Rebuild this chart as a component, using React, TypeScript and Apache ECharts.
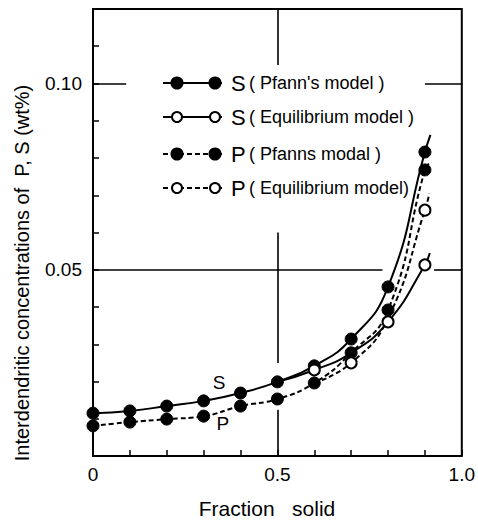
import React, { useEffect, useRef } from "react";
import * as echarts from "echarts";

// ---- data ----
const xFull = [0, 0.1, 0.2, 0.3, 0.4, 0.5, 0.6, 0.7, 0.8, 0.9];
const sPfann = [0.0115, 0.0121, 0.0134, 0.0148, 0.0169, 0.0199, 0.0242, 0.0314, 0.0454, 0.0816];
const pPfann = [0.0081, 0.0091, 0.0099, 0.0107, 0.0134, 0.0153, 0.0196, 0.0277, 0.0392, 0.0768];
const tailX = [0.915];
const sPfannTail = [0.0862];
const pPfannTail = [0.0789];

const sEqX = [0.5, 0.6, 0.7, 0.8, 0.9, 0.913];
const sEqY = [0.0199, 0.0231, 0.0277, 0.036, 0.0513, 0.0545];
const sEqMarked = [false, true, false, true, true, false];

const pEqX = [0.6, 0.7, 0.8, 0.9, 0.912];
const pEqY = [0.0196, 0.025, 0.037, 0.066, 0.0705];
const pEqMarked = [false, true, false, true, false];

const xTickValues = [0, 0.5, 1.0];
const xTickLabels = ["0", "0.5", "1.0"];
const yTickValues = [0.05, 0.1];
const yTickLabels = ["0.05", "0.10"];

const legendElements = ["S", "S", "P", "P"];
const legendNotes = ["( Pfann's model )", "( Equilibrium model )", "( Pfanns modal )", "( Equilibrium model)"];
const legendDashed = [false, false, true, true];
const legendFilled = [true, false, true, false];

const curveLabels = ["S", "P"];
const curveLabelX = [0.342, 0.352];
const curveLabelY = [0.0197, 0.0086];

// reference lines (broken grid lines in the original)
const refSegments: number[][][] = [
  [[0, 0.1], [0.09, 0.1]],
  [[0.9, 0.1], [1, 0.1]],
  [[0, 0.05], [0.785, 0.05]],
  [[0.925, 0.05], [1, 0.05]],
  [[0.5, 0.12], [0.5, 0.105]],
  [[0.5, 0.06], [0.5, 0.025]],
  [[0.5, 0.0124], [0.5, 0]],
];

const xName = "Fraction   solid";
const yName = "Interdendritic concentrations of  P, S (wt%)";

const FONT = "Liberation Sans";

function findLabel(v: number, vals: number[], labels: string[]) {
  for (let i = 0; i < vals.length; i++) if (Math.abs(v - vals[i]) < 1e-6) return labels[i];
  return "";
}

const filledStyle = { color: "#000", borderColor: "#000", borderWidth: 1 };
const openStyle = { color: "#fff", borderColor: "#000", borderWidth: 2 };
const SMOOTH = 0.5;

export default function App() {
  const ref = useRef<HTMLDivElement>(null);
  useEffect(() => {
    if (!ref.current) return;
    const chart = echarts.init(ref.current, null, { renderer: "svg" });

    const pfannData = (ys: number[], tail: number[]) => [
      ...xFull.map((x, i) => [x, ys[i]]),
      ...tailX.map((x, i) => ({ value: [x, tail[i]], symbol: "none" })),
    ];
    const eqData = (xs: number[], ys: number[], marked: boolean[]) =>
      xs.map((x, i) => (marked[i] ? [x, ys[i]] : { value: [x, ys[i]], symbol: "none" }));

    const legendGraphics: any[] = [];
    const rowY = [83, 117, 154, 188];
    legendElements.forEach((el, i) => {
      const y = rowY[i];
      legendGraphics.push({
        type: "line",
        shape: { x1: 163, y1: y, x2: 222, y2: y },
        style: { stroke: "#000", lineWidth: 2, lineDash: legendDashed[i] ? [5, 3] : null },
        z: 10,
      });
      [177, 215].forEach((cx) => {
        legendGraphics.push({
          type: "circle",
          shape: { cx, cy: y, r: legendFilled[i] ? 5.5 : 5 },
          style: {
            fill: legendFilled[i] ? "#000" : "#fff",
            stroke: "#000",
            lineWidth: 2,
          },
          z: 11,
        });
      });
      legendGraphics.push({
        type: "text",
        x: 231,
        y: y,
        style: {
          text: `{b|${el}} {s|${legendNotes[i]}}`,
          verticalAlign: "middle",
          rich: {
            b: { fontSize: 22, fontFamily: FONT, fill: "#000" },
            s: { fontSize: 18, fontFamily: FONT, fill: "#000" },
          },
        },
        z: 11,
      });
    });

    chart.setOption({
      animation: false,
      backgroundColor: "#fff",
      grid: {
        left: 93,
        right: 8,
        top: 9,
        bottom: 64,
        show: true,
        borderColor: "#000",
        borderWidth: 2,
        backgroundColor: "transparent",
      },
      xAxis: {
        type: "value",
        min: 0,
        max: 1,
        interval: 0.1,
        axisLine: { show: false },
        splitLine: { show: false },
        axisTick: { show: true, inside: true, length: 6, lineStyle: { color: "#000", width: 1.5 } },
        axisLabel: {
          margin: 9,
          fontSize: 19,
          fontFamily: FONT,
          color: "#000",
          formatter: (v: number) => findLabel(v, xTickValues, xTickLabels),
        },
      },
      yAxis: {
        type: "value",
        min: 0,
        max: 0.12,
        interval: 0.01,
        axisLine: { show: false },
        splitLine: { show: false },
        axisTick: { show: true, inside: true, length: 6, lineStyle: { color: "#000", width: 1.5 } },
        axisLabel: {
          margin: 11,
          fontSize: 19,
          fontFamily: FONT,
          color: "#000",
          formatter: (v: number) => findLabel(v, yTickValues, yTickLabels),
        },
      },
      graphic: [
        ...legendGraphics,
        {
          type: "text",
          x: 267,
          y: 508,
          style: { text: xName, fontSize: 21, fontFamily: FONT, fill: "#000", align: "center", verticalAlign: "middle" },
        },
        {
          type: "text",
          x: 22,
          y: 273,
          rotation: Math.PI / 2,
          style: { text: yName, fontSize: 20, fontFamily: FONT, fill: "#000", align: "center", verticalAlign: "middle" },
        },
      ],
      series: [
        {
          name: "S (Pfann's model)",
          type: "line",
          data: pfannData(sPfann, sPfannTail),
          smooth: SMOOTH,
          symbol: "circle",
          symbolSize: 12,
          itemStyle: filledStyle,
          lineStyle: { color: "#000", width: 2 },
          z: 3,
          markLine: {
            silent: true,
            symbol: "none",
            label: { show: false },
            lineStyle: { color: "#000", width: 1.6, type: "solid" },
            data: refSegments.map((seg) => [{ coord: seg[0] }, { coord: seg[1] }]),
          },
          markPoint: {
            symbol: "circle",
            symbolSize: 1,
            itemStyle: { color: "rgba(0,0,0,0)" },
            label: { show: true, color: "#000", fontSize: 19, fontFamily: FONT, formatter: (p: any) => p.name },
            data: curveLabels.map((t, i) => ({ name: t, coord: [curveLabelX[i], curveLabelY[i]] })),
          },
        },
        {
          name: "P (Pfanns modal)",
          type: "line",
          data: pfannData(pPfann, pPfannTail),
          smooth: SMOOTH,
          symbol: "circle",
          symbolSize: 12,
          itemStyle: filledStyle,
          lineStyle: { color: "#000", width: 2, type: [5, 3] },
          z: 3,
        },
        {
          name: "S (Equilibrium model)",
          type: "line",
          data: eqData(sEqX, sEqY, sEqMarked),
          smooth: SMOOTH,
          symbol: "circle",
          symbolSize: 11,
          itemStyle: openStyle,
          lineStyle: { color: "#000", width: 2 },
          z: 4,
        },
        {
          name: "P (Equilibrium model)",
          type: "line",
          data: eqData(pEqX, pEqY, pEqMarked),
          smooth: SMOOTH,
          symbol: "circle",
          symbolSize: 11,
          itemStyle: openStyle,
          lineStyle: { color: "#000", width: 2, type: [5, 3] },
          z: 4,
        },
      ],
    });
    return () => chart.dispose();
  }, []);
  return (
    <div
      ref={ref}
      style={{ position: "absolute", left: 0, top: 0, width: 478, height: 520, background: "#fff" }}
    />
  );
}
